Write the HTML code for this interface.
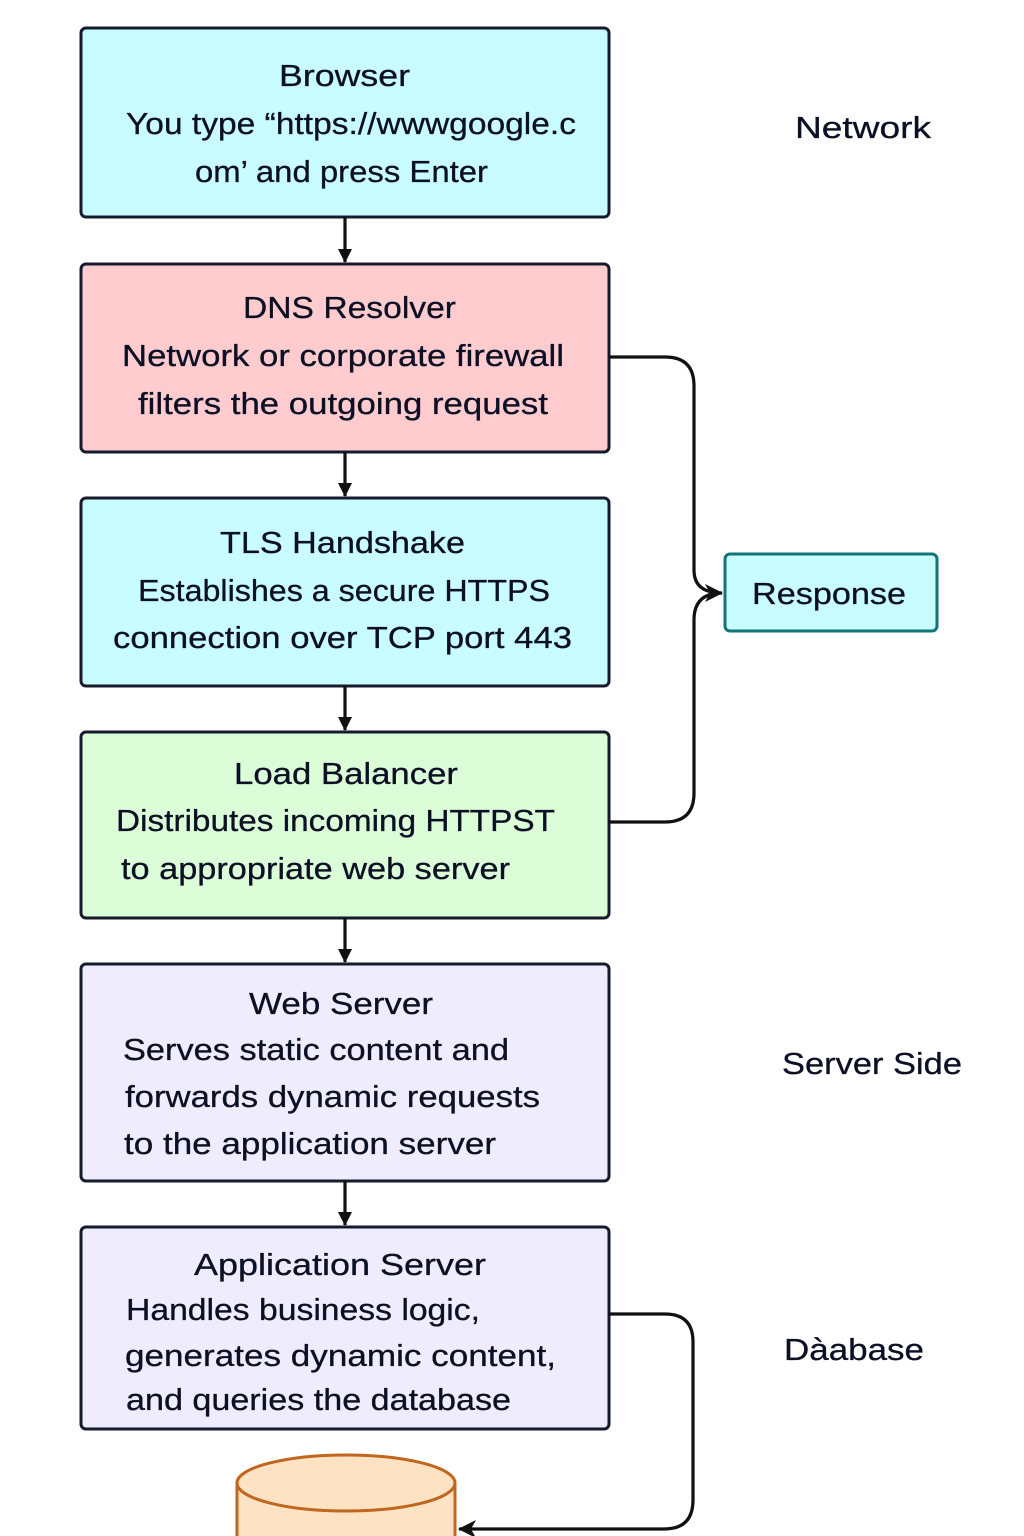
<!DOCTYPE html>
<html><head><meta charset="utf-8"><style>
html,body{margin:0;padding:0;background:#fff;}
svg{display:block;}
text{font-family:"Liberation Sans",sans-serif;fill:#0d1024;font-size:31px;stroke:#0d1024;stroke-width:0.3px;}
</style></head><body>
<svg width="1024" height="1536" viewBox="0 0 1024 1536" xmlns="http://www.w3.org/2000/svg">
<defs>
<marker id="ah" markerWidth="14" markerHeight="14" refX="13" refY="7" orient="auto" markerUnits="userSpaceOnUse"><path d="M0,0 L14,7 L0,14 Z" fill="#111"/></marker>
<marker id="ah2" markerWidth="18" markerHeight="18" refX="17" refY="9" orient="auto" markerUnits="userSpaceOnUse"><path d="M0,0 L18,9 L0,18 L5,9 Z" fill="#111"/></marker>
</defs>
<g stroke="#161a2c" stroke-width="3">
<rect x="81" y="28" width="528" height="189" rx="5" fill="#c8fcfe"/>
<rect x="81" y="264" width="528" height="188" rx="5" fill="#fecccf"/>
<rect x="81" y="498" width="528" height="188" rx="5" fill="#c8fcfe"/>
<rect x="81" y="732" width="528" height="186" rx="5" fill="#dbfed9"/>
<rect x="81" y="964" width="528" height="217" rx="5" fill="#efecfd"/>
<rect x="81" y="1227" width="528" height="202" rx="5" fill="#efecfd"/>
</g>
<rect x="725" y="554" width="212" height="77" rx="5" fill="#c8fcfe" stroke="#127478" stroke-width="3"/>
<g stroke="#111" stroke-width="3.2" fill="none">
<line x1="345" y1="217" x2="345" y2="262" marker-end="url(#ah)"/>
<line x1="345" y1="452" x2="345" y2="496" marker-end="url(#ah)"/>
<line x1="345" y1="686" x2="345" y2="730" marker-end="url(#ah)"/>
<line x1="345" y1="918" x2="345" y2="962" marker-end="url(#ah)"/>
<line x1="345" y1="1181" x2="345" y2="1225" marker-end="url(#ah)"/>
<path d="M609,357 H665 Q694,357 694,386 V570 Q694,593 722,593" marker-end="url(#ah2)"/>
<path d="M609,822 H665 Q694,822 694,793 V620 Q694,593 722,593"/>
<path d="M609,1314 H665 Q693,1314 693,1342 V1500 Q693,1529 664,1529 H459" marker-end="url(#ah2)"/>
</g>
<path d="M237,1483 V1540 H455 V1483" fill="#fde3c4" stroke="#c0661e" stroke-width="3"/>
<ellipse cx="346" cy="1483" rx="109" ry="28" fill="#fde3c4" stroke="#c0661e" stroke-width="3"/>
<text x="279" y="86" textLength="131" lengthAdjust="spacingAndGlyphs">Browser</text>
<text x="126" y="134" textLength="450" lengthAdjust="spacingAndGlyphs">You type “https://wwwgoogle.c</text>
<text x="195" y="182" textLength="293" lengthAdjust="spacingAndGlyphs">om’ and press Enter</text>
<text x="243" y="318" textLength="213" lengthAdjust="spacingAndGlyphs">DNS Resolver</text>
<text x="122" y="366" textLength="442" lengthAdjust="spacingAndGlyphs">Network or corporate firewall</text>
<text x="138" y="414" textLength="410" lengthAdjust="spacingAndGlyphs">filters the outgoing request</text>
<text x="220" y="553" textLength="245" lengthAdjust="spacingAndGlyphs">TLS Handshake</text>
<text x="138" y="601" textLength="412" lengthAdjust="spacingAndGlyphs">Establishes a secure HTTPS</text>
<text x="113" y="648" textLength="459" lengthAdjust="spacingAndGlyphs">connection over TCP port  443</text>
<text x="234" y="784" textLength="224" lengthAdjust="spacingAndGlyphs">Load Balancer</text>
<text x="116" y="831" textLength="439" lengthAdjust="spacingAndGlyphs">Distributes incoming HTTPST</text>
<text x="121" y="879" textLength="389" lengthAdjust="spacingAndGlyphs">to appropriate web server</text>
<text x="249" y="1014" textLength="184" lengthAdjust="spacingAndGlyphs">Web Server</text>
<text x="123" y="1060" textLength="386" lengthAdjust="spacingAndGlyphs">Serves static content and</text>
<text x="125" y="1107" textLength="415" lengthAdjust="spacingAndGlyphs">forwards dynamic requests</text>
<text x="124" y="1154" textLength="372" lengthAdjust="spacingAndGlyphs">to the application server</text>
<text x="194" y="1275" textLength="292" lengthAdjust="spacingAndGlyphs">Application Server</text>
<text x="126" y="1320" textLength="354" lengthAdjust="spacingAndGlyphs">Handles business logic,</text>
<text x="125" y="1366" textLength="431" lengthAdjust="spacingAndGlyphs">generates dynamic content,</text>
<text x="126" y="1410" textLength="385" lengthAdjust="spacingAndGlyphs">and queries the database</text>
<text x="752" y="604" textLength="154" lengthAdjust="spacingAndGlyphs">Response</text>
<text x="795" y="138" textLength="136" lengthAdjust="spacingAndGlyphs">Network</text>
<text x="782" y="1074" textLength="180" lengthAdjust="spacingAndGlyphs">Server Side</text>
<text x="784" y="1360" textLength="140" lengthAdjust="spacingAndGlyphs">Dàabase</text>
</svg>
</body></html>
